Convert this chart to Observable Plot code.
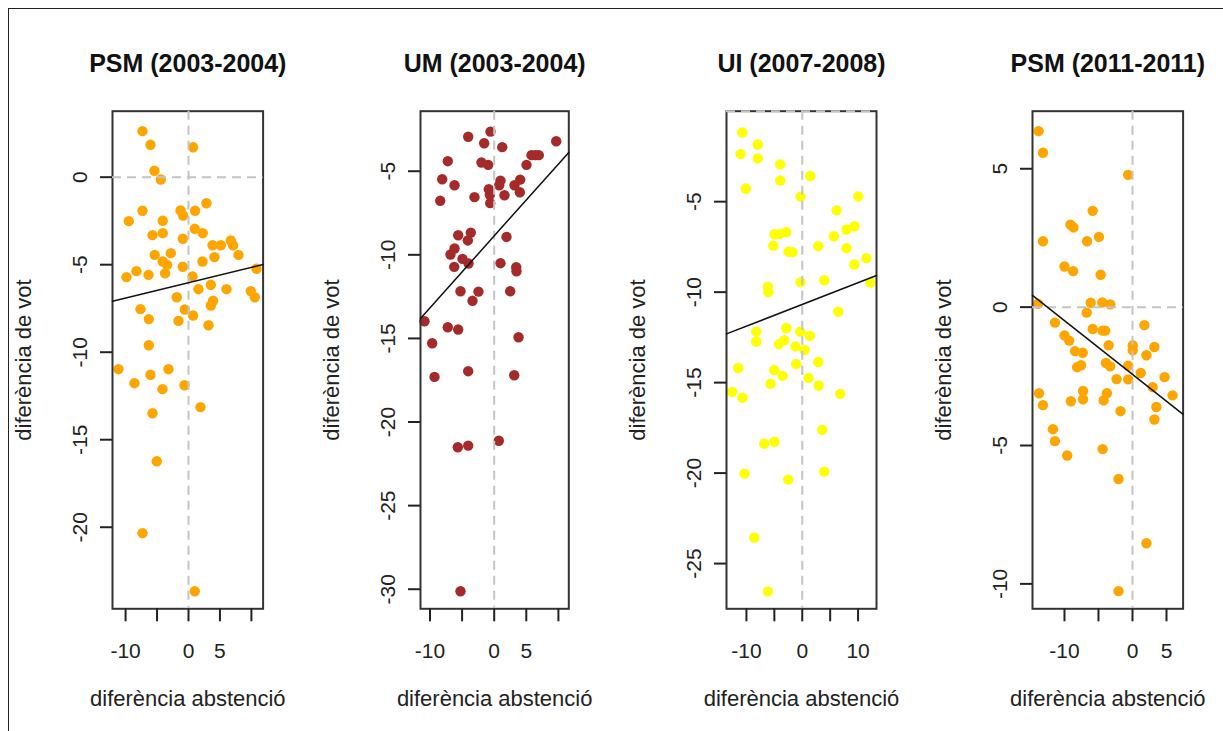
<!DOCTYPE html>
<html>
<head>
<meta charset="utf-8">
<script src="https://cdn.jsdelivr.net/npm/d3@7"></script>
<script src="https://cdn.jsdelivr.net/npm/@observablehq/plot@0.6"></script>
<style>
body { margin: 0; background: #fff; overflow: hidden; }
#wrap { position: relative; width: 1223px; height: 731px; background: #fff; }
#wrap svg { position: absolute; top: 0; }
#border { position: absolute; left: 8px; top: 8px; right: 0; bottom: 0; border-left: 1px solid #222; border-top: 1px solid #222; pointer-events: none; }
</style>
</head>
<body>
<div id="wrap"><div id="border"></div></div>
<script>
// ---- data ----
const titles = ["PSM (2003-2004)", "UM (2003-2004)", "UI (2007-2008)", "PSM (2011-2011)"];
const xLabel = "diferència abstenció";
const yLabel = "diferència de vot";

const psm03X = [-7.31,-6.04,0.73,-5.41,-4.40,2.86,-7.31,-1.27,-0.86,1.05,-9.49,-4.09,1.00,2.27,-5.72,-4.09,-0.91,3.82,5.14,6.73,7.09,7.95,4.13,2.23,-2.81,-5.36,-4.09,-3.40,-0.91,-3.72,-6.36,-8.27,-9.86,0.64,10.81,1.59,3.55,6.04,9.90,10.54,-1.86,3.91,3.55,-0.59,0.73,-7.63,-6.31,-1.59,3.18,-6.31,-11.13,-6.04,-3.18,-8.59,-4.13,-0.64,1.91,-5.72,-5.04,-7.31,1.00];
const psm03Y = [2.63,1.85,1.71,0.37,-0.13,-1.49,-1.92,-1.90,-2.19,-1.92,-2.51,-2.49,-2.95,-3.20,-3.31,-3.20,-3.52,-3.89,-3.89,-3.62,-3.90,-4.44,-4.57,-4.82,-4.34,-4.44,-4.82,-5.01,-5.12,-5.49,-5.58,-5.37,-5.71,-5.67,-5.23,-6.40,-6.15,-6.40,-6.51,-6.86,-6.86,-7.06,-7.33,-7.56,-7.90,-7.54,-8.11,-8.21,-8.46,-9.60,-10.97,-11.29,-10.97,-11.77,-12.11,-11.89,-13.14,-13.49,-16.23,-20.34,-23.66];

const um03X = [-0.58,-4.05,-1.56,1.25,9.66,5.81,6.43,6.95,-7.23,-1.98,-0.93,5.03,-8.10,-6.18,0.98,0.78,4.05,3.16,3.99,-0.84,1.60,-3.07,-0.68,-0.62,-8.41,-3.64,-5.61,-4.11,1.92,-6.18,-6.81,-4.94,-4.00,-6.23,0.98,3.43,3.47,-5.25,-2.45,-3.38,2.49,-10.86,-7.23,-5.61,-9.66,3.79,-9.30,-4.05,3.12,-5.67,-4.05,0.72,-5.25];
const um03Y = [-2.63,-2.94,-3.33,-3.56,-3.21,-4.04,-4.04,-4.04,-4.40,-4.48,-4.62,-4.62,-5.48,-5.84,-5.56,-5.84,-5.50,-5.84,-6.26,-6.08,-6.44,-6.55,-6.41,-6.91,-6.77,-8.67,-8.83,-9.14,-8.93,-9.62,-9.98,-10.24,-10.52,-10.72,-10.50,-10.74,-10.98,-12.18,-12.20,-12.75,-12.18,-13.97,-14.33,-14.47,-15.29,-14.93,-17.30,-16.96,-17.20,-21.51,-21.41,-21.12,-30.12];

const ui07X = [-10.75,-7.96,-11.06,-7.96,-3.94,1.43,-3.94,-10.11,-0.30,10.04,6.15,9.37,7.94,5.66,-4.96,-4.01,-2.87,-5.20,-2.46,-1.74,2.87,7.94,11.47,9.32,3.94,-0.30,12.19,-6.16,-6.09,6.45,-8.24,-8.24,-2.87,-0.36,1.36,-4.19,-3.23,-1.20,0.41,2.87,-1.08,-11.47,-5.02,-3.53,1.13,-5.68,2.92,-12.54,-10.70,6.81,3.58,-6.81,-4.96,-10.34,-2.51,3.94,-8.60,-6.16];
const ui07Y = [-1.18,-1.84,-2.37,-2.61,-2.94,-3.58,-3.83,-4.27,-4.72,-4.71,-5.48,-6.36,-6.54,-6.91,-6.80,-6.78,-6.69,-7.43,-7.77,-7.79,-7.46,-7.57,-8.12,-8.47,-9.34,-9.45,-9.47,-9.70,-10.00,-11.08,-12.18,-12.73,-11.98,-12.18,-12.42,-12.87,-12.65,-13.00,-13.20,-13.86,-13.97,-14.19,-14.30,-14.63,-14.74,-15.07,-15.16,-15.51,-15.84,-15.62,-17.61,-18.38,-18.27,-20.03,-20.36,-19.92,-23.56,-26.54];

const psm11X = [-13.80,-13.16,-0.64,-5.85,-9.12,-8.68,-13.16,-6.68,-4.93,-10.00,-8.73,-4.68,-13.89,-6.14,-4.44,-3.27,-6.73,-11.40,1.75,-5.85,-4.39,-4.00,-10.00,-9.31,-3.51,0.04,0.04,3.22,-8.44,-7.31,2.05,-8.14,-7.56,-3.90,-3.27,-0.64,1.21,4.72,-2.34,-0.64,2.97,-13.74,-7.27,-7.27,-3.76,-4.24,5.89,-13.16,-9.06,-1.76,3.51,3.22,-11.70,-11.40,-9.60,-4.39,-2.05,2.05,-2.05];
const psm11Y = [6.36,5.58,4.78,3.48,2.98,2.88,2.38,2.38,2.54,1.47,1.30,1.17,0.12,0.16,0.17,0.10,-0.20,-0.56,-0.65,-0.79,-0.85,-0.85,-1.02,-1.21,-1.38,-1.38,-1.56,-1.44,-1.59,-1.65,-1.74,-2.17,-2.10,-2.02,-2.14,-2.12,-2.38,-2.53,-2.60,-2.61,-2.89,-3.11,-3.03,-3.33,-3.11,-3.37,-3.19,-3.54,-3.40,-3.76,-3.61,-4.06,-4.41,-4.84,-5.36,-5.13,-6.21,-8.53,-10.26];

const fitIntercept = [-6.03, -8.87, -10.68, -2.43];
const fitSlope = [0.088, 0.43, 0.12, -0.194];

const xTicks = [[-10,-5,0,5,10],[-10,-5,0,5,10],[-10,-5,0,5,10],[-10,-5,0,5]];
const xTickLabels = [[-10,0,5],[-10,0,5],[-10,0,10],[-10,0,5]];
const yTicks = [[-20,-15,-10,-5,0],[-30,-25,-20,-15,-10,-5],[-25,-20,-15,-10,-5],[-10,-5,0,5]];

const xDomains = [[-12.08,11.86],[-11.48,11.62],[-13.57,13.3],[-14.7,7.44]];
const yDomains = [[-24.66,3.77],[-31.17,-1.41],[-27.5,0],[-10.9,7.08]];

// ---- styles / layout ----
const colors = ["#FFA500", "#A52A2A", "#FFFF00", "#FFA500"];
const boxLeft = [111.7, 420, 726, 1031.7];
const boxWidth = [150.6, 148.3, 150, 150.6];
const boxTop = 110.7, boxBottom = 608.3, H = 731;
const ML = 112, MR = 45;
const FONT = "'Liberation Sans', Arial, sans-serif";

const series = [[psm03X, psm03Y], [um03X, um03Y], [ui07X, ui07Y], [psm11X, psm11Y]];
const wrap = document.getElementById("wrap");

series.forEach(([xs, ys], i) => {
  const pts = xs.map((x, k) => ({x, y: ys[k]}));
  const xd = xDomains[i], yd = yDomains[i];
  const fit = xd.map(x => ({x, y: fitIntercept[i] + fitSlope[i] * x}));
  const labs = xTickLabels[i];
  const marks = [
    Plot.dot(pts, {x: "x", y: "y", r: 5.2, fill: colors[i]}),
    Plot.frame({stroke: "#333", strokeWidth: 2}),
    Plot.ruleX([0], {stroke: "#c4c4c4", strokeWidth: 2, strokeDasharray: "9,6"})
  ];
  if (yd[0] <= 0 && yd[1] >= 0) marks.push(Plot.ruleY([0], {stroke: "#c4c4c4", strokeWidth: 2, strokeDasharray: "9,6"}));
  marks.push(
    Plot.line(fit, {x: "x", y: "y", stroke: "#111", strokeWidth: 1.5}),
    Plot.axisX({ticks: xTicks[i], tickSize: 13, tickPadding: 21, tickFormat: d => labs.includes(d) ? String(d) : "", fontSize: 21, color: "#222", strokeWidth: 2, label: null}),
    Plot.axisY({ticks: yTicks[i], tickSize: 12, tickFormat: () => "", color: "#222", strokeWidth: 2, label: null}),
    Plot.text(yTicks[i], {y: d => d, text: d => String(d), frameAnchor: "left", dx: -32, rotate: -90, fontSize: 21, textAnchor: "middle", lineAnchor: "middle", fill: "#222"}),
    Plot.text([yLabel], {text: d => d, frameAnchor: "left", dx: -89, rotate: -90, fontSize: 22, textAnchor: "middle", lineAnchor: "middle", fill: "#222"}),
    Plot.text([xLabel], {text: d => d, frameAnchor: "bottom", dy: 89.7, fontSize: 22, textAnchor: "middle", lineAnchor: "middle", fill: "#222"}),
    Plot.text([titles[i]], {text: d => d, frameAnchor: "top", dy: -47, fontSize: 25, fontWeight: "bold", textAnchor: "middle", lineAnchor: "middle", fill: "#111"})
  );
  const svg = Plot.plot({
    width: ML + boxWidth[i] + MR,
    height: H,
    marginLeft: ML,
    marginRight: MR,
    marginTop: boxTop,
    marginBottom: H - boxBottom,
    x: {domain: xd, axis: null},
    y: {domain: yd, axis: null},
    style: {fontFamily: FONT, background: "transparent", overflow: "visible", maxWidth: "none"},
    marks
  });
  svg.style.left = (boxLeft[i] - ML) + "px";
  wrap.insertBefore(svg, document.getElementById("border"));
});
</script>
</body>
</html>
